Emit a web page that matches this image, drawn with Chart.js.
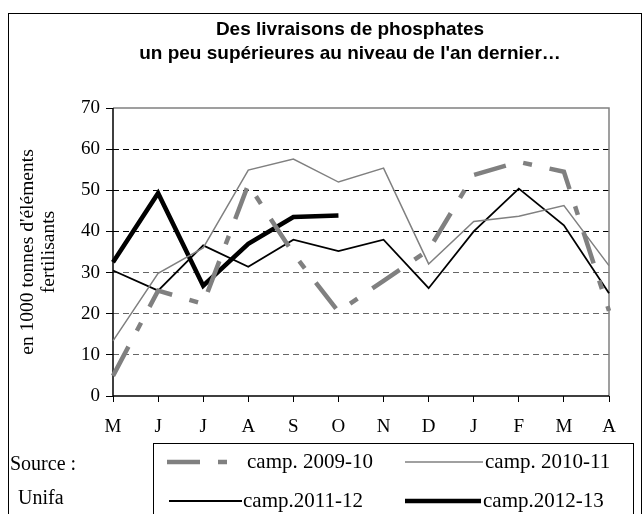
<!DOCTYPE html>
<html>
<head>
<meta charset="utf-8">
<script src="https://cdn.jsdelivr.net/npm/chart.js@4"></script>
<style>
  html, body { margin: 0; padding: 0; background: #fff; }
  #wrap { width: 643px; height: 514px; }
</style>
</head>
<body>
<div id="wrap"><canvas id="chart" width="643" height="514"></canvas></div>
<script>
(function(){
  'use strict';

  // ---- Données ----
  const mois = ['M','J','J','A','S','O','N','D','J','F','M','A'];
  const camp0910 = [4.9, 25.6, 22.4, 51.4, 34.6, 20.5, 28, 35.5, 53.7, 56.9, 54.5, 20.7];
  const camp1011 = [13.4, 29.8, 36, 54.9, 57.6, 52, 55.4, 32.1, 42.4, 43.7, 46.3, 31.7];
  const camp1112 = [30.5, 25.6, 36.6, 31.4, 38, 35.2, 38, 26.2, 40, 50.4, 41.5, 25];
  const camp1213 = [32.5, 49.3, 26.8, 37, 43.5, 43.9, null, null, null, null, null, null];
  const yTicks = [0, 10, 20, 30, 40, 50, 60, 70];

  const titre = ['Des livraisons de phosphates', "un peu supérieures au niveau de l'an dernier…"];
  const titreY = ['en 1000 tonnes d\'éléments', 'fertilisants'];
  const source = ['Source :', 'Unifa'];

  const GRIS = '#808080';
  const SERIF = "'Liberation Serif', 'Times New Roman', serif";
  const SANS = "'Liberation Sans', Arial, sans-serif";

  // ---- Cadre, titre, légende ----
  const cadre = {
    id: 'cadre',
    beforeDatasetsDraw(chart){
      const {ctx, chartArea: a} = chart;
      ctx.save();
      ctx.lineWidth = 1.5;
      ctx.strokeStyle = GRIS;
      ctx.beginPath();
      ctx.moveTo(a.left, a.top); ctx.lineTo(a.right, a.top); ctx.lineTo(a.right, a.bottom);
      ctx.stroke();
      ctx.strokeStyle = '#000';
      ctx.beginPath();
      ctx.moveTo(a.left, a.top); ctx.lineTo(a.left, a.bottom); ctx.lineTo(a.right, a.bottom);
      ctx.stroke();
      ctx.restore();
    },
    afterDraw(chart){
      const {ctx} = chart;
      ctx.save();
      // bordure extérieure
      ctx.strokeStyle = '#000';
      ctx.lineWidth = 1;
      ctx.strokeRect(8.5, 13.5, 633, 520);

      // titre
      ctx.fillStyle = '#000';
      ctx.font = 'bold 19px ' + SANS;
      ctx.textAlign = 'center';
      ctx.textBaseline = 'middle';
      titre.forEach((t, i) => ctx.fillText(t, 350, 30 + i * 24));

      // source
      ctx.font = '20px ' + SERIF;
      ctx.textAlign = 'left';
      ctx.fillText(source[0], 10, 465);
      ctx.fillText(source[1], 18, 499);

      // légende
      ctx.strokeRect(153.5, 443.5, 480, 100);
      const pos = [
        {x1: 167, x2: 229, tx: 247, y: 462},
        {x1: 405, x2: 483, tx: 485, y: 462},
        {x1: 169, x2: 242, tx: 243, y: 501},
        {x1: 405, x2: 481, tx: 483, y: 501}
      ];
      chart.data.datasets.forEach((ds, i) => {
        const p = pos[i];
        ctx.save();
        ctx.strokeStyle = ds.borderColor;
        ctx.lineWidth = ds.borderWidth;
        ctx.setLineDash(ds.borderDash || []);
        ctx.beginPath();
        ctx.moveTo(p.x1, p.y); ctx.lineTo(p.x2, p.y);
        ctx.stroke();
        ctx.restore();
        ctx.fillStyle = '#000';
        ctx.font = '21px ' + SERIF;
        ctx.textAlign = 'left';
        ctx.fillText(ds.label, p.tx, p.y);
      });
      ctx.restore();
    }
  };

  const ligne = (label, data, color, width, dash) => ({
    label, data,
    borderColor: color,
    borderWidth: width,
    borderDash: dash || [],
    borderCapStyle: 'butt',
    borderJoinStyle: 'miter',
    pointRadius: 0,
    tension: 0,
    fill: false,
    spanGaps: false
  });

  new Chart(document.getElementById('chart').getContext('2d'), {
    type: 'line',
    data: {
      labels: mois,
      datasets: [
        ligne('camp. 2009-10', camp0910, GRIS, 4.5, [33, 18, 9, 18]),
        ligne('camp. 2010-11', camp1011, GRIS, 1.5),
        ligne('camp.2011-12', camp1112, '#000', 1.8),
        ligne('camp.2012-13', camp1213, '#000', 4.5)
      ]
    },
    options: {
      responsive: false,
      animation: false,
      layout: { padding: { left: 5, top: 108, right: 34, bottom: 0 } },
      plugins: { legend: { display: false }, tooltip: { enabled: false } },
      scales: {
        x: {
          offset: false,
          afterFit: (s) => { s.height = 118; },
          grid: { display: true, drawOnChartArea: false, drawTicks: true, tickLength: 6, tickColor: '#000', tickWidth: 1 },
          border: { display: false },
          ticks: { color: '#000', font: { family: SERIF, size: 19 }, padding: 14, maxRotation: 0, autoSkip: false }
        },
        y: {
          min: 0, max: 70,
          afterFit: (s) => { s.width = 108; },
          afterBuildTicks: (s) => { s.ticks = yTicks.map(v => ({ value: v })); },
          grid: {
            color: (c) => {
              const v = c.tick && c.tick.value;
              if (v === 0 || v === 70) return 'rgba(0,0,0,0)';
              return v >= 40 ? '#000' : '#666';
            },
            lineWidth: 1,
            tickLength: 7,
            tickColor: '#000',
            tickBorderDash: []
          },
          border: { display: false, dash: [6, 4] },
          ticks: { color: '#000', font: { family: SERIF, size: 19 }, padding: 6 },
          title: {
            display: true,
            text: titreY,
            color: '#000',
            font: { family: SERIF, size: 19.5, lineHeight: 1.1 },
            padding: { top: 12, bottom: 0 }
          }
        }
      }
    },
    plugins: [cadre]
  });
})();
</script>
</body>
</html>
